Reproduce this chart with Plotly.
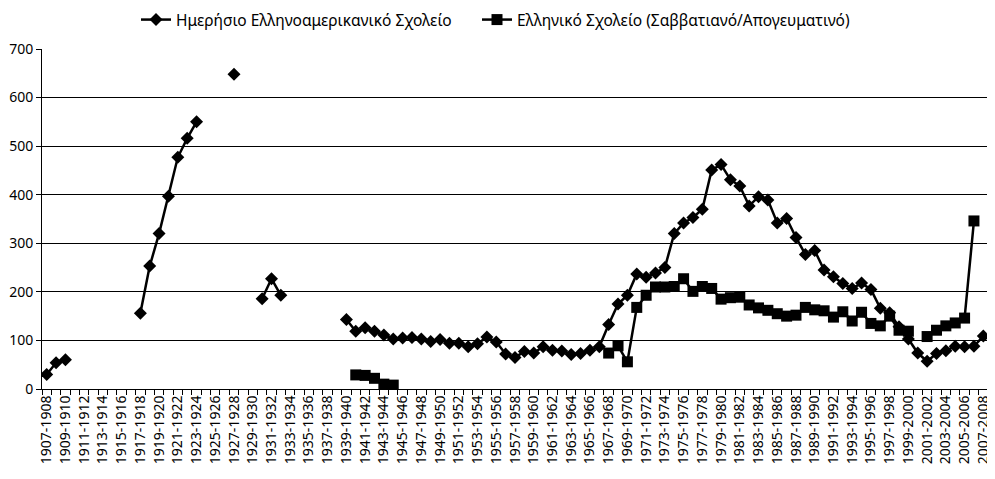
import plotly.graph_objects as go

# School years 1907-1908 ... 2007-2008
years = [f"{y}-{y + 1}" for y in range(1907, 2008)]

# Day school (Ημερήσιο Ελληνοαμερικανικό Σχολείο), None = no data
day_school = [
    30, 54, 60, None, None, None, None, None, None, None,
    156, 253, 320, 397, 477, 516, 550, None, None, None,
    648, None, None, 186, 227, 193, None, None, None, None,
    None, None, 143, 119, 126, 119, 111, 103, 105, 106,
    103, 98, 102, 94, 94, 87, 93, 107, 97, 72,
    65, 77, 74, 87, 80, 78, 71, 73, 80, 87,
    133, 175, 193, 237, 230, 239, 250, 320, 342, 353,
    370, 451, 462, 431, 418, 377, 396, 389, 342, 351,
    312, 277, 285, 245, 231, 217, 207, 218, 205, 166,
    157, 128, 103, 74, 57, 73, 79, 88, 87, 88,
    109,
]

# Saturday / afternoon school (Ελληνικό Σχολείο)
greek_school = [
    None, None, None, None, None, None, None, None, None, None,
    None, None, None, None, None, None, None, None, None, None,
    None, None, None, None, None, None, None, None, None, None,
    None, None, None, 29, 28, 22, 10, 8, None, None,
    None, None, None, None, None, None, None, None, None, None,
    None, None, None, None, None, None, None, None, None, None,
    74, 89, 56, 168, 193, 210, 210, 211, 227, 201,
    211, 207, 185, 188, 189, 173, 167, 162, 155, 150,
    152, 168, 163, 161, 148, 159, 140, 158, 135, 130,
    150, 121, 119, None, 108, 121, 130, 136, 146, 346,
    None,
]

y_ticks = [0, 100, 200, 300, 400, 500, 600, 700]

FONT = "Noto Sans"
W, H = 987, 471  # page body adds an 8px margin

fig = go.Figure()

fig.add_trace(
    go.Scatter(
        x=years,
        y=day_school,
        mode="lines+markers",
        name="Ημερήσιο Ελληνοαμερικανικό Σχολείο",
        line=dict(color="black", width=2.5),
        marker=dict(symbol="diamond", size=10, color="black"),
        connectgaps=False,
        legend="legend",
    )
)

fig.add_trace(
    go.Scatter(
        x=years,
        y=greek_school,
        mode="lines+markers",
        name="Ελληνικό Σχολείο (Σαββατιανό/Απογευματινό)",
        line=dict(color="black", width=2.5),
        marker=dict(symbol="square", size=11, color="black"),
        connectgaps=False,
        legend="legend2",
    )
)

# label every other school year, tick every one
tick_text = [y if i % 2 == 0 else "" for i, y in enumerate(years)]


def legend_box(x_px):
    return dict(
        orientation="h",
        xref="container",
        yref="container",
        x=x_px / W,
        xanchor="left",
        y=1 - 12 / H,
        yanchor="middle",
        font=dict(family=FONT, size=15.5),
        itemwidth=30,
        borderwidth=0,
        bgcolor="rgba(0,0,0,0)",
    )


fig.update_layout(
    width=W,
    height=H,
    margin=dict(l=34, r=7, t=41, b=90),
    paper_bgcolor="white",
    plot_bgcolor="white",
    font=dict(family=FONT, size=14, color="black"),
    showlegend=True,
    legend=legend_box(128),
    legend2=legend_box(469),
    xaxis=dict(
        type="category",
        range=[-0.5, len(years) - 0.5],
        tickmode="array",
        tickvals=years,
        ticktext=tick_text,
        tickangle=-90,
        tickson="boundaries",
        ticks="outside",
        ticklen=5,
        tickcolor="black",
        showline=True,
        linecolor="black",
        linewidth=1,
        showgrid=False,
        automargin=False,
        tickfont=dict(family=FONT, size=14),
    ),
    yaxis=dict(
        range=[0, 700],
        tickvals=y_ticks,
        showgrid=True,
        gridcolor="black",
        gridwidth=1,
        showline=True,
        linecolor="black",
        linewidth=1,
        ticks="outside",
        ticklen=5,
        tickcolor="black",
        zeroline=False,
        automargin=False,
        tickfont=dict(family=FONT, size=14),
    ),
)

fig.write_html("out.html")
